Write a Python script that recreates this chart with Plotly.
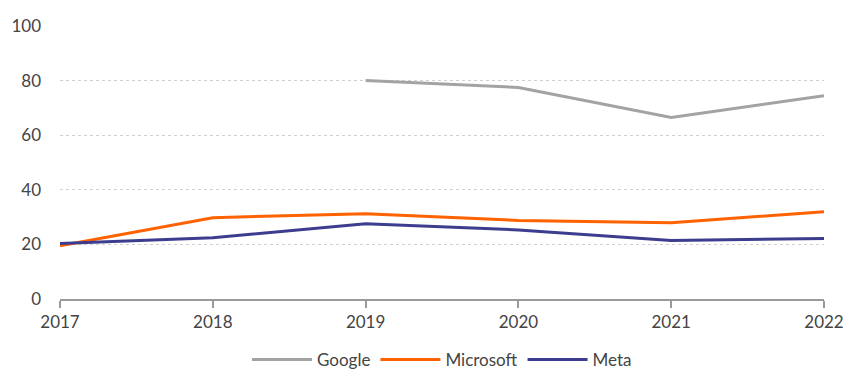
import plotly.graph_objects as go

years = [2017, 2018, 2019, 2020, 2021, 2022]
google = [None, None, 80, 77.5, 66.5, 74.5]
microsoft = [19.5, 29.8, 31.2, 28.8, 27.9, 32]
meta = [20.3, 22.4, 27.6, 25.3, 21.4, 22.2]

fig = go.Figure()
fig.add_trace(go.Scatter(x=years, y=google, name="Google", mode="lines",
                         line=dict(color="#A3A3A3", width=3)))
fig.add_trace(go.Scatter(x=years, y=microsoft, name="Microsoft", mode="lines",
                         line=dict(color="#FF6200", width=3)))
fig.add_trace(go.Scatter(x=years, y=meta, name="Meta", mode="lines",
                         line=dict(color="#3D3D8F", width=3)))

fig.update_layout(
    width=846, height=378,
    margin=dict(l=60, r=22, t=26, b=79, autoexpand=False),
    plot_bgcolor="white", paper_bgcolor="white",
    font=dict(family="Lato, sans-serif", size=17, color="#444444"),
    legend=dict(orientation="h", x=0.5, xanchor="center",
                yref="container", y=0.0, yanchor="bottom",
                font=dict(size=17, color="#444444"), itemwidth=60,
                tracegroupgap=0),
    showlegend=True,
)
fig.update_xaxes(range=[2017, 2022], tickvals=years, showgrid=False,
                 showline=True, linecolor="#999999", linewidth=1.5,
                 ticks="outside", tickcolor="#999999", ticklen=7, tickwidth=1.5,
                 zeroline=False, automargin=False)
fig.update_yaxes(range=[0, 100], tickvals=[0, 20, 40, 60, 80, 100],
                 showgrid=True, gridcolor="#D0D0D0", griddash="dot", gridwidth=1,
                 zeroline=False, ticks="", ticklabelstandoff=18, automargin=False)

fig.write_html("out.html")
